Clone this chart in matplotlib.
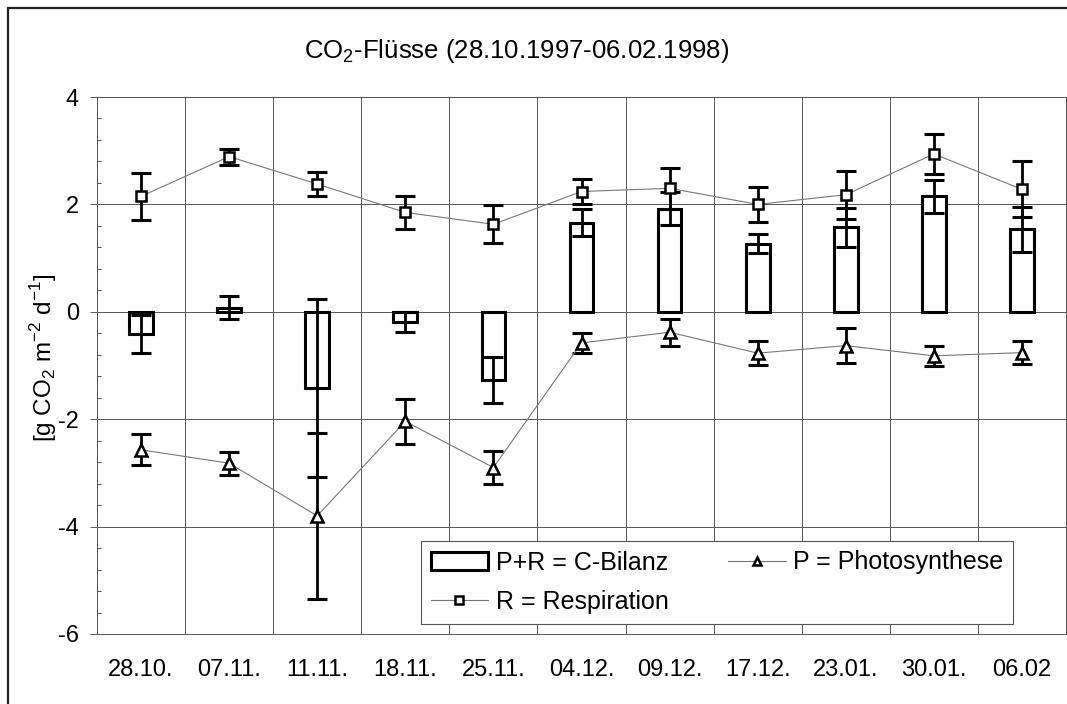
import matplotlib
matplotlib.use("Agg")
import matplotlib.pyplot as plt
import numpy as np
from matplotlib.patches import Patch, Rectangle
from matplotlib.lines import Line2D
from matplotlib.ticker import MultipleLocator

plt.rcParams['font.family'] = ['Liberation Sans', 'DejaVu Sans']
plt.rcParams['mathtext.fontset'] = 'custom'
plt.rcParams['mathtext.rm'] = 'Liberation Sans'

dates = ['28.10.', '07.11.', '11.11.', '18.11.', '25.11.', '04.12.',
         '09.12.', '17.12.', '23.01.', '30.01.', '06.02']
bilanz = [-0.41, 0.08, -1.42, -0.19, -1.27, 1.66, 1.92, 1.27, 1.57, 2.15, 1.54]
bilanz_err = [0.35, 0.21, 1.65, 0.18, 0.42, 0.25, 0.31, 0.18, 0.37, 0.31, 0.42]
resp = [2.15, 2.89, 2.38, 1.85, 1.63, 2.24, 2.30, 2.00, 2.18, 2.94, 2.28]
resp_err = [0.44, 0.15, 0.22, 0.30, 0.35, 0.24, 0.38, 0.32, 0.45, 0.38, 0.52]
photo = [-2.57, -2.82, -3.80, -2.04, -2.90, -0.58, -0.38, -0.77, -0.63, -0.82, -0.76]
photo_err = [0.29, 0.21, 1.55, 0.42, 0.30, 0.18, 0.25, 0.23, 0.32, 0.19, 0.22]
yticks = [-6, -4, -2, 0, 2, 4]

W, H = 1067, 704
fig = plt.figure(figsize=(W / 100, H / 100), dpi=100)
ax = fig.add_axes([97 / W, 1 - 634 / H, (1066 - 97) / W, (634 - 97) / H])

x = np.arange(len(dates))
grid_c = '#555555'

# gridlines
for b in np.arange(-0.5, len(dates) + 0.5, 1.0):
    ax.axvline(b, color=grid_c, lw=0.7, zorder=0)
for yv in yticks:
    ax.axhline(yv, color=grid_c, lw=0.7, zorder=0)

# bars
ax.bar(x, bilanz, width=0.27, facecolor='white', edgecolor='black', linewidth=2.2, zorder=2)
ax.errorbar(x, bilanz, yerr=bilanz_err, fmt='none', ecolor='black', elinewidth=2.0,
            capsize=7.2, capthick=2.2, zorder=3)

# respiration
ax.errorbar(x, resp, yerr=resp_err, fmt='none', ecolor='black', elinewidth=2.0,
            capsize=7.2, capthick=2.2, zorder=4)
ax.plot(x, resp, color='#777777', lw=0.8, zorder=4)
ax.plot(x, resp, ls='none', marker='s', ms=7.5, mfc='white', mec='black', mew=1.8, zorder=5)

# photosynthesis
ax.errorbar(x, photo, yerr=photo_err, fmt='none', ecolor='black', elinewidth=2.0,
            capsize=7.2, capthick=2.2, zorder=4)
ax.plot(x, photo, color='#777777', lw=0.8, zorder=4)
ax.plot(x, photo, ls='none', marker='^', ms=8, mfc='white', mec='black', mew=1.8, zorder=5)

ax.set_xlim(-0.5, len(dates) - 0.5)
ax.set_ylim(-6, 4)
ax.set_yticks(yticks)
ax.set_yticklabels([str(v) for v in yticks])
ax.yaxis.set_minor_locator(MultipleLocator(0.4))
ax.tick_params(axis='y', which='major', direction='out', length=5, width=0.7,
               color=grid_c, labelsize=17, pad=8)
ax.tick_params(axis='y', which='minor', direction='in', length=3, width=0.7, color=grid_c)
ax.set_xticks(x)
ax.set_xticklabels(dates)
ax.tick_params(axis='x', length=0, labelsize=17, pad=18)
for s in ax.spines.values():
    s.set_color(grid_c)
    s.set_linewidth(0.7)

ax.set_ylabel(r'[g CO$_2$ m$^{-2}$ d$^{-1}$]', fontsize=17.5)
ax.yaxis.set_label_coords(-38 / 969, 0.5 + 8 / 537)

fig.text(517 / W, 1 - 51 / H, r'CO$_2$-Flüsse (28.10.1997-06.02.1998)', ha='center', va='center',
         fontsize=18.5)

handles = [Patch(facecolor='white', edgecolor='black', linewidth=2.2),
           Line2D([0], [0], color='#777777', lw=0.8, marker='s', ms=6, mfc='white', mec='black', mew=1.8),
           Line2D([0], [0], color='#777777', lw=0.8, marker='^', ms=6, mfc='white', mec='black', mew=1.8)]
labels = ['P+R = C-Bilanz', 'R = Respiration', 'P = Photosynthese']
leg = ax.legend(handles, labels, ncol=2, loc='upper left',
                bbox_to_anchor=((421 - 97) / 969, (634 - 541) / 537),
                fontsize=18, frameon=True, fancybox=False, framealpha=1,
                edgecolor=grid_c, borderpad=0.38, handlelength=2.3, handletextpad=0.3,
                columnspacing=2.4, labelspacing=0.62, borderaxespad=0)
leg.get_frame().set_linewidth(0.8)
leg.set_zorder(10)

# outer frame
fig.add_artist(Rectangle((8 / W, -0.1), 1.2, 1.1 - 8 / H, transform=fig.transFigure,
                         fill=False, edgecolor='#222222', lw=1.6))

fig.savefig('out.png', dpi=100)
